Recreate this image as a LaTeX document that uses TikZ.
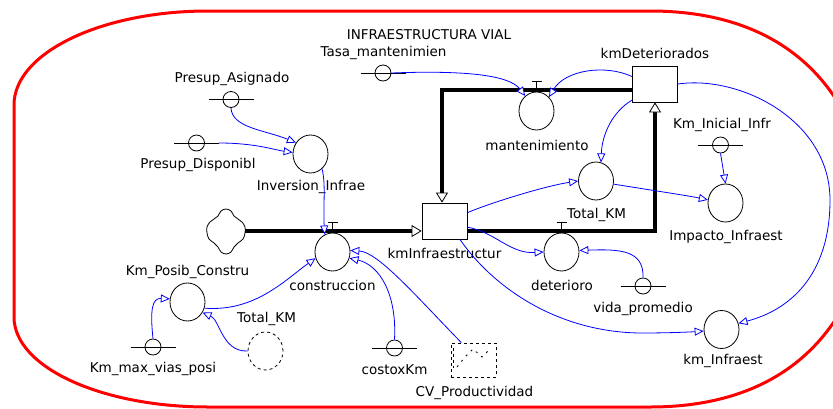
\documentclass[tikz,border=0pt]{standalone}
\usepackage{fontspec}
\setmainfont{DejaVu Sans}
\usetikzlibrary{arrows.meta,shapes.geometric,calc}
\begin{document}
\begin{tikzpicture}[x=1pt,y=-1pt,
  every node/.style={font=\fontsize{13.5}{15}\selectfont},
  lbl/.style={inner sep=0pt, text height=9.5pt, text depth=3pt},
  aux/.style={ellipse,draw,line width=0.8pt,minimum width=35pt,minimum height=38pt,inner sep=0pt},
  ghost/.style={aux,dashed},
  cst/.style={circle,draw,line width=0.8pt,minimum size=16pt,inner sep=0pt},
  stock/.style={rectangle,draw,line width=0.8pt,minimum width=45pt,minimum height=36pt,inner sep=0pt},
  flow/.style={line width=3.8pt,-{Triangle[length=10pt,width=12pt,fill=white,line width=0.8pt]}},
  conn/.style={blue,line width=0.8pt,-{Triangle[length=9pt,width=8pt,fill=white,line width=0.8pt]}},
  border/.style={red,line width=3pt},
  valve/.style={line width=0.8pt}
]
\useasboundingbox (0,0) rectangle (833,408);
\clip (0,0) rectangle (833,408);

% red boundary
\draw[border] (14,317) -- (14,105) .. controls (14,53) and (101,11) .. (208,11)
  -- (650,11) .. controls (740,11) and (850,45) .. (875,209)
  .. controls (850,373) and (740,407) .. (650,407)
  -- (208,407) .. controls (101,407) and (14,367) .. (14,317) -- cycle;

\node[lbl] (title) at (429,36) {INFRAESTRUCTURA VIAL};

% stocks
\node[stock] (kmi) at (444.5,221) {};
\node[lbl] at (444.5,255) {kmInfraestructur};
\node[stock] (kmd) at (655,84) {};
\node[lbl] at (655,55) {kmDeteriorados};

% cloud
\node[minimum width=38pt,minimum height=44pt,inner sep=0pt] (cloud) at (226,231) {};
\draw[line width=0.8pt,shift={(cloud.center)}] plot[smooth cycle,tension=0.6] coordinates {
  (-5,-20) (0,-22) (5,-20) (8,-15) (12,-12) (16,-9) (19,-4) (19,2) (17,8) (12,12)
  (8,16) (5,21) (0,23) (-5,21) (-8,16) (-12,12) (-17,8) (-19,2) (-19,-4) (-16,-9) (-12,-12) (-8,-15)};

% flows
\draw[flow] (cloud.east) -- (kmi.west |- cloud.east);
\draw[flow] ($(kmi.east)+(0,10)$) -| (kmd.south);
\draw[flow] ($(kmd.west)+(0,6)$) -| ($(kmi.north)+(-2.5,0)$);

% rate / aux variables
\node[aux] (inv) at (310.5,154) {};
\node[lbl] at (311,187) {Inversion\_Infrae};
\node[aux] (con) at (332.5,252) {};
\node[lbl] at (332.5,287) {construccion};
\node[aux] (man) at (536.5,111) {};
\node[lbl] at (537,147) {mantenimiento};
\node[aux] (tk) at (596,181) {};
\node[lbl] at (596.5,215) {Total\_KM};
\node[aux] (det) at (561.5,252) {};
\node[lbl] at (562,287) {deterioro};
\node[aux] (imp) at (725.5,203) {};
\node[lbl] at (726,237) {Impacto\_Infraest};
\node[aux] (kmI) at (721.5,329.5) {};
\node[lbl] at (723,361.5) {km\_Infraest};
\node[aux] (kp) at (187.5,302) {};
\node[lbl] at (187.5,272.5) {Km\_Posib\_Constru};
\node[ghost] (gtk) at (265.5,351) {};
\node[lbl] at (266.5,319.5) {Total\_KM};

% valves
\draw[valve] (con.north) -- ++(0,-10) ++(-5,0) -- ++(10,0);
\draw[valve] (man.north) -- ++(0,-10) ++(-5,0) -- ++(10,0);
\draw[valve] (det.north) -- ++(0,-10) ++(-5,0) -- ++(10,0);

% constants
\node[cst] (tasa) at (383,73) {};
\node[lbl] at (383.5,53.5) {Tasa\_mantenimien};
\node[cst] (pa) at (231,99.5) {};
\node[lbl] at (232,79) {Presup\_Asignado};
\node[cst] (pd) at (196.5,143) {};
\node[lbl] at (198,165) {Presup\_Disponibl};
\node[cst] (kini) at (720.5,145) {};
\node[lbl] at (722,125) {Km\_Inicial\_Infr};
\node[cst] (vida) at (643,286) {};
\node[lbl] at (643,309) {vida\_promedio};
\node[cst] (kmax) at (153,347) {};
\node[lbl] at (153,369) {Km\_max\_vias\_posi};
\node[cst] (cost) at (394.5,348) {};
\node[lbl] at (394.5,371) {costoxKm};
\foreach \n in {tasa,pa,pd,kini,vida,kmax,cost}
  \draw[line width=0.8pt] ($(\n.center)+(-22.5,0)$) -- ($(\n.center)+(22.5,0)$);

% graph variable
\node[draw,dashed,line width=0.8pt,minimum width=45pt,minimum height=34pt,inner sep=0pt] (cv) at (473.5,360) {};
\node[lbl] at (474.5,393.5) {CV\_Productividad};
\draw[dashed,line width=0.8pt] ($(cv.north west)+(3,5)$) -- ($(cv.south west)+(3,-9)$);
\draw[line width=0.8pt,dash pattern=on 2pt off 5pt] ($(cv.center)+(-16.5,7)$) -- ($(cv.center)+(-8.5,-3)$)
  -- ($(cv.center)+(-0.5,-11)$) -- ($(cv.center)+(8.5,-3)$) -- ($(cv.center)+(15.5,-10)$);

% connectors
\draw[conn] (tasa.east) .. controls (470,70) and (510,76) .. (man.127);
\draw[conn] (kmd.162) .. controls (605,64) and (565,70) .. (man.48);
\draw[conn] (kmd.215) .. controls (612,112) and (602,135) .. (tk.75);
\draw[conn] (kmd.east) .. controls (740,75) and (830,120) .. (830,200)
  .. controls (830,275) and (790,310) .. (kmI.20);
\draw[conn] (kmi.20) .. controls (490,203) and (545,186) .. (tk.west);
\draw[conn] (tk.350) .. controls (650,190) and (690,196) .. (imp.170);
\draw[conn] (kini.south) -- (imp.north);
\draw[conn] (kmi.345) .. controls (495,232) and (510,254) .. (det.west);
\draw[conn] (vida.north) .. controls (644,250) and (620,249) .. (det.5);
\draw[conn] (kmi.310) .. controls (495,290) and (560,332) .. (640,333)
  .. controls (670,333) and (690,332) .. (kmI.185);
\draw[conn] (inv.-52) .. controls (326,185) and (323,205) .. (con.114);
\draw[conn] (cv.125) .. controls (415,295) and (378,252) .. (con.5);
\draw[conn] (cost.north) .. controls (397,295) and (380,265) .. (con.-20);
\draw[conn] (kp.-20) .. controls (255,312) and (285,280) .. (con.200);
\draw[conn] (kmax.north) .. controls (150,310) and (152,298) .. (kp.170);
\draw[conn] (gtk.west) .. controls (222,352) and (220,320) .. (kp.-35);
\draw[conn] (pa.south) .. controls (232,128) and (265,130) .. (inv.142);
\draw[conn] ($(pd.center)+(22.5,0)$) .. controls (255,143) and (275,150) .. (inv.175);
\end{tikzpicture}
\end{document}
